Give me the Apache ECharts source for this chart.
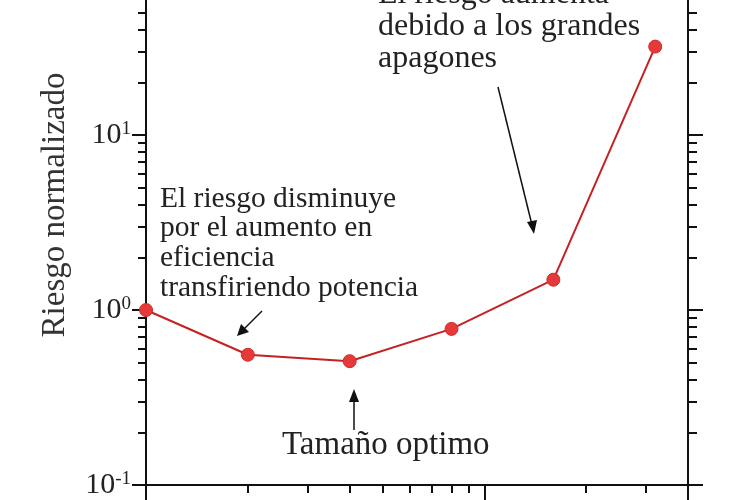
<!DOCTYPE html>
<html>
<head>
<meta charset="utf-8">
<script src="https://cdn.jsdelivr.net/npm/echarts@6/dist/echarts.min.js"></script>
<style>html,body{margin:0;padding:0;background:#fff;}#c{width:730px;height:500px;}</style>
</head>
<body>
<div id="c"></div>
<script>
// Data
var sizes = [1, 2, 4, 8, 16, 32];
var risk = [1.0, 0.555, 0.51, 0.78, 1.49, 32];
var xMajorTicks = [1, 10, 40];
var xMinorTicks = [2, 3, 4, 5, 6, 7, 8, 9, 20, 30];
var yMajorTicks = [0.1, 1, 10, 100];
var yMinorTicks = [0.2,0.3,0.4,0.5,0.6,0.7,0.8,0.9,2,3,4,5,6,7,8,9,20,30,40,50,60,70,80,90];
var yLabelValues = [0.1, 1, 10];
var yAxisTitle = 'Riesgo normalizado';
var noteDecrease = 'El riesgo disminuye\npor el aumento en\neficiencia\ntransfiriendo potencia';
var noteIncrease = 'El riesgo aumenta\ndebido a los grandes\napagones';
var noteOptimum = 'Tamaño optimo';

var serif = '"Liberation Serif", "DejaVu Serif", serif';
var grid = {left: 146, right: 42, top: -40, bottom: 15, containLabel: false, outerBoundsMode: 'none'};
var lineStyleAx = {color: '#111', width: 2};

function xAx(ticks, len, showLine) {
  return {
    type: 'log', logBase: 10, min: 1, max: 40, position: 'bottom',
    axisLine: {show: showLine, lineStyle: lineStyleAx},
    axisTick: {show: true, inside: false, length: len, customValues: ticks, lineStyle: {color: '#111', width: 2}},
    axisLabel: {show: false}, splitLine: {show: false}, minorTick: {show: false}
  };
}
function yAx(pos, ticks, len, showLine, showLabel) {
  return {
    type: 'log', logBase: 10, min: 0.1, max: 100, position: pos,
    axisLine: {show: showLine, lineStyle: lineStyleAx},
    axisTick: {show: true, inside: false, length: len, customValues: ticks, lineStyle: {color: '#111', width: 2}},
    axisLabel: {
      show: showLabel, margin: 15, customValues: yLabelValues,
      formatter: function (v) {
        var k = Math.round(Math.log10(v));
        return '{b|10}{s|' + String(k) + '}';
      },
      rich: {
        b: {fontFamily: serif, fontSize: 30, color: '#222', verticalAlign: 'bottom', lineHeight: 30},
        s: {fontFamily: serif, fontSize: 19, color: '#222', verticalAlign: 'top', lineHeight: 30, padding: [0, 0, 17, 0]}
      }
    },
    splitLine: {show: false}, minorTick: {show: false}
  };
}

var chart = echarts.init(document.getElementById('c'), null, {renderer: 'canvas'});
chart.setOption({
  backgroundColor: '#fff',
  animation: false,
  grid: grid,
  xAxis: [xAx(xMajorTicks, 15, true), xAx(xMinorTicks, 8, false)],
  yAxis: [
    yAx('left', yMajorTicks, 14, true, true),
    yAx('left', yMinorTicks, 8, false, false),
    yAx('right', yMajorTicks, 15, true, false),
    yAx('right', yMinorTicks, 9, false, false)
  ],
  series: [{
    type: 'line', xAxisIndex: 0, yAxisIndex: 0,
    data: sizes.map(function (s, i) { return [s, risk[i]]; }),
    symbol: 'circle', symbolSize: 13,
    lineStyle: {color: '#c42222', width: 2},
    itemStyle: {color: '#e63a3a', borderColor: '#d02a2a', borderWidth: 1},
    z: 5
  }],
  graphic: [
    {type: 'text', x: 55, y: 205, rotation: Math.PI / 2,
      style: {text: yAxisTitle, font: '33px ' + serif, fill: '#333', align: 'center', verticalAlign: 'middle'}},
    {type: 'text', x: 160, y: 184,
      style: {text: noteDecrease, font: '29.5px ' + serif, fill: '#222', lineHeight: 29.7}},
    {type: 'text', x: 378, y: -21,
      style: {text: noteIncrease, font: '32px ' + serif, fill: '#222', lineHeight: 32}},
    {type: 'text', x: 282, y: 429,
      style: {text: noteOptimum, font: '33px ' + serif, fill: '#222', lineHeight: 33}},
    // arrows
    {type: 'line', shape: {x1: 262, y1: 311, x2: 241, y2: 332}, style: {stroke: '#111', lineWidth: 1.5}},
    {type: 'polygon', shape: {points: [[237, 336], [241, 324], [249, 332]]}, style: {fill: '#111'}},
    {type: 'line', shape: {x1: 354, y1: 430, x2: 354, y2: 396}, style: {stroke: '#111', lineWidth: 1.5}},
    {type: 'polygon', shape: {points: [[354, 389], [349, 402], [359, 402]]}, style: {fill: '#111'}},
    {type: 'line', shape: {x1: 498, y1: 87, x2: 532, y2: 225}, style: {stroke: '#111', lineWidth: 1.5}},
    {type: 'polygon', shape: {points: [[534, 234], [527, 222], [537, 220]]}, style: {fill: '#111'}}
  ]
});
</script>
</body>
</html>
